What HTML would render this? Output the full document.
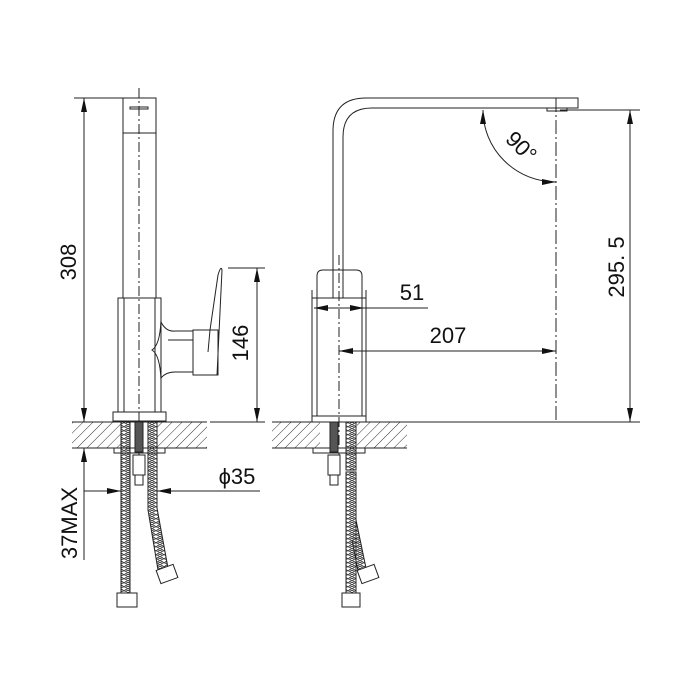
<!DOCTYPE html>
<html><head><style>html,body{margin:0;padding:0;background:#fff}svg{display:block}</style></head><body>
<svg width="700" height="700" viewBox="0 0 700 700" xmlns="http://www.w3.org/2000/svg" font-family="Liberation Sans, sans-serif">
<defs>
<pattern id="h" patternUnits="userSpaceOnUse" width="7" height="7" patternTransform="rotate(45)"><line x1="0" y1="0" x2="0" y2="7" stroke="#333" stroke-width="1"/></pattern>
<pattern id="hose" patternUnits="userSpaceOnUse" width="8" height="4"><path d="M0 0 L4 3 L8 0 M0 2 L4 5 L8 2" stroke="#333" fill="none" stroke-width="1"/></pattern>
<marker id="a" markerWidth="14" markerHeight="6" refX="14" refY="3" orient="auto-start-reverse" markerUnits="userSpaceOnUse"><path d="M0 0 L14 3 L0 6 Z" fill="#111"/></marker>
</defs>
<g stroke="#222" stroke-width="1" fill="none">
<!-- LEFT VIEW -->
<rect x="123" y="98" width="33" height="200" fill="#fff"/>
<line x1="123" y1="133" x2="156" y2="133"/>
<rect x="130" y="107" width="18" height="2"/>
<rect x="118" y="298" width="43" height="114" fill="#fff"/>
<line x1="155" y1="298" x2="155" y2="412"/>
<line x1="124" y1="298" x2="124" y2="412"/>
<path d="M161 320 Q160 345 152 350 Q160 355 161 380"/>
<path d="M161 322 Q166 332 175 331 L193 331 M161 378 Q166 372 175 372 L193 372 M168 340 L193 340"/>
<rect x="193" y="330" width="25" height="45" fill="#fff"/>
<path d="M210 330 L218 275 Q221 265 222 270 L217 375 M210 330 L208 352"/>
<rect x="113" y="412" width="53" height="9" fill="#fff"/>
<line x1="139" y1="88" x2="139" y2="470" stroke-dasharray="10 3 2 3"/>
<!-- countertop left -->
<rect x="72" y="422" width="49" height="26" fill="url(#h)" stroke="none"/>
<rect x="157" y="422" width="50" height="26" fill="url(#h)" stroke="none"/>
<line x1="72" y1="422" x2="207" y2="422"/><line x1="72" y1="448" x2="207" y2="448"/>
<rect x="114" y="448" width="51" height="5" fill="#fff"/>
<rect x="121" y="422" width="9" height="171" fill="url(#hose)"/>
<rect x="117" y="593" width="20" height="14" fill="#fff"/>
<path d="M148 422 L157 422 L157 508 L168 568 L158 570 L148 510 Z" fill="url(#hose)"/>
<rect x="158" y="567" width="18" height="14" fill="#fff" transform="rotate(-20 167 574)"/>
<rect x="135" y="422" width="8" height="30" fill="#555"/>
<rect x="133" y="455" width="12" height="20" fill="#fff"/>
<rect x="135" y="475" width="8" height="10" fill="#fff"/>
<!-- dims left -->
<line x1="74" y1="98" x2="155" y2="98"/>
<line x1="84" y1="98" x2="84" y2="422" marker-start="url(#a)" marker-end="url(#a)"/>
<line x1="74" y1="422" x2="110" y2="422"/>
<line x1="228" y1="268" x2="265" y2="268"/>
<line x1="210" y1="422" x2="265" y2="422"/>
<line x1="257" y1="268" x2="257" y2="422" marker-start="url(#a)" marker-end="url(#a)"/>
<line x1="84" y1="560" x2="84" y2="448" marker-end="url(#a)"/>
<line x1="84" y1="491" x2="121" y2="491" marker-end="url(#a)"/>
<line x1="260" y1="491" x2="157" y2="491" marker-end="url(#a)"/>
<!-- RIGHT VIEW -->
<path d="M333 270 L333 131 Q333 98 366 98 L578 98 L578 108 L372 108 Q343 108 343 137 L343 270"/>
<rect x="547" y="108" width="20" height="3"/>
<path d="M317 298 L317 276 Q317 270 323 270 L356 270 Q362 270 362 276 L362 298"/>
<line x1="333" y1="270" x2="333" y2="298"/><line x1="343" y1="270" x2="343" y2="298"/>
<line x1="312" y1="298" x2="366" y2="298"/>
<line x1="312" y1="298" x2="312" y2="417"/><line x1="366" y1="298" x2="366" y2="417"/>
<line x1="317" y1="298" x2="317" y2="417"/><line x1="362" y1="298" x2="362" y2="417"/>
<rect x="312" y="416" width="54" height="6" fill="#fff"/>
<line x1="339" y1="255" x2="339" y2="470" stroke-dasharray="10 3 2 3"/>
<line x1="556" y1="98" x2="556" y2="422" stroke-dasharray="14 3 2 3"/>
<rect x="272" y="422" width="48" height="26" fill="url(#h)" stroke="none"/>
<rect x="357" y="422" width="50" height="26" fill="url(#h)" stroke="none"/>
<line x1="272" y1="422" x2="407" y2="422"/><line x1="272" y1="448" x2="407" y2="448"/>
<line x1="407" y1="422" x2="640" y2="422"/>
<rect x="313" y="448" width="52" height="5" fill="#fff"/>
<rect x="330" y="422" width="8" height="30" fill="#555"/>
<rect x="328" y="455" width="12" height="20" fill="#fff"/>
<rect x="330" y="475" width="8" height="10" fill="#fff"/>
<rect x="346" y="422" width="10" height="48" fill="url(#hose)"/>
<path d="M356 520 L366 568 L358 571 L352 540" fill="url(#hose)"/>
<rect x="346" y="472" width="10" height="121" fill="url(#hose)"/>
<rect x="342" y="593" width="18" height="14" fill="#fff"/>
<rect x="359" y="567" width="18" height="14" fill="#fff" transform="rotate(-20 368 574)"/>
<!-- dims right -->
<line x1="312" y1="290" x2="312" y2="420"/>
<line x1="366" y1="290" x2="366" y2="420"/>
<line x1="340" y1="308" x2="314" y2="308" marker-end="url(#a)"/>
<line x1="340" y1="308" x2="364" y2="308" marker-end="url(#a)"/>
<line x1="364" y1="308" x2="428" y2="308"/>
<line x1="339" y1="351" x2="556" y2="351" marker-start="url(#a)" marker-end="url(#a)"/>
<path d="M483 110 A73 72 0 0 0 556 182" marker-start="url(#a)" marker-end="url(#a)"/>
<line x1="560" y1="110" x2="640" y2="110"/>
<line x1="630" y1="110" x2="630" y2="422" marker-start="url(#a)" marker-end="url(#a)"/>
</g>
<g fill="#111" font-size="22">
<text transform="translate(76 262) rotate(-90)" text-anchor="middle">308</text>
<text transform="translate(248 343) rotate(-90)" text-anchor="middle">146</text>
<text transform="translate(77 523) rotate(-90)" text-anchor="middle">37MAX</text>
<text x="237" y="484" text-anchor="middle">ϕ35</text>
<text x="412" y="300" text-anchor="middle">51</text>
<text x="448" y="343" text-anchor="middle">207</text>
<text transform="translate(516 152) rotate(45)" text-anchor="middle">90°</text>
<text transform="translate(624 267) rotate(-90)" text-anchor="middle">295. 5</text>
</g>
</svg>
</body></html>
